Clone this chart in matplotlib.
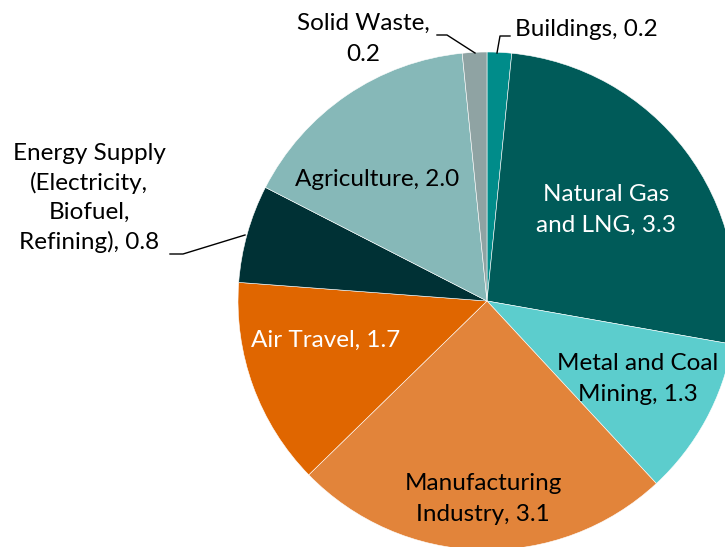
import matplotlib.pyplot as plt

# emissions by sector, clockwise from 12 o'clock
sectors = ['Buildings', 'Natural Gas\nand LNG', 'Metal and Coal\nMining', 'Manufacturing\nIndustry',
           'Air Travel', 'Energy Supply\n(Electricity,\nBiofuel,\nRefining)', 'Agriculture', 'Solid Waste']
values = [0.2, 3.3, 1.3, 3.1, 1.7, 0.8, 2.0, 0.2]
colors = ['#008c8a', '#005b59', '#5ccdcd', '#e2843a', '#e06600', '#003135', '#86b8b8', '#8fa3a3']

plt.rcParams['font.family'] = ['Lato', 'DejaVu Sans']

W, H = 725, 547
fig = plt.figure(figsize=(W / 100, H / 100), dpi=100)
ax = fig.add_axes([0, 0, 1, 1])

cx, cy, r = 487, H - 301, 249
ax.pie(values, colors=colors, startangle=90, counterclock=False, center=(cx, cy), radius=r,
       wedgeprops=dict(edgecolor='white', linewidth=0.4), frame=True)
ax.set_xlim(0, W)
ax.set_ylim(0, H)
ax.set_aspect('equal')
ax.axis('off')

fs = 17.5
def lab(txt, x, y, col='black', ha='center', ls=1.6):
    ax.text(x, H - y, txt, color=col, fontsize=fs, ha=ha, va='center', linespacing=ls)

lab('Solid Waste,\n0.2', 363, 39, ls=1.6)
lab('Buildings, 0.2', 515, 30, ha='left')
lab('Natural Gas\nand LNG, 3.3', 606, 210, col='white', ls=1.6)
lab('Metal and Coal\nMining, 1.3', 638, 379, ls=1.57)
lab('Manufacturing\nIndustry, 3.1', 483, 499, ls=1.63)
lab('Air Travel, 1.7', 326, 340, col='white')
lab('Agriculture, 2.0', 377, 180)
lab('Energy Supply\n(Electricity,\nBiofuel,\nRefining), 0.8', 89, 198, ls=1.45)

# leader lines
ax.plot([437, 447, 475], [H - 35, H - 35, H - 53], color='black', lw=1)
ax.plot([497, 500, 510], [H - 53, H - 36, H - 36], color='black', lw=1)
ax.plot([170, 183, 245], [H - 254, H - 254, H - 235], color='black', lw=1)

fig.savefig('out.png', dpi=100)
